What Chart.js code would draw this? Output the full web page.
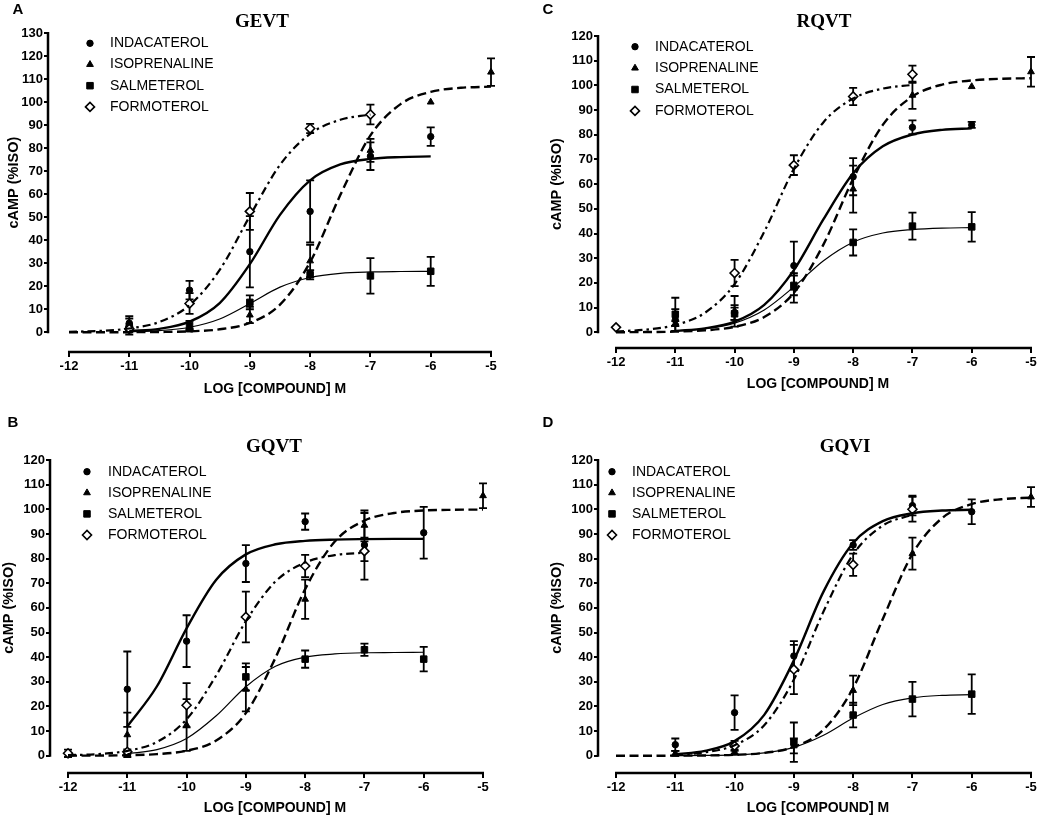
<!DOCTYPE html>
<html>
<head>
<meta charset="utf-8">
<script src="https://cdn.jsdelivr.net/npm/chart.js@4.4.1/dist/chart.umd.min.js"></script>
<style>
  html, body { margin: 0; padding: 0; background: #fff; }
  #wrap { position: relative; width: 1040px; height: 817px; overflow: hidden; }
  .panel { position: absolute; }
</style>
</head>
<body>
<div id="wrap">
  <div class="panel" style="left:0;top:0;width:520px;height:410px"><canvas id="cA"></canvas></div>
  <div class="panel" style="left:520px;top:0;width:520px;height:410px"><canvas id="cC"></canvas></div>
  <div class="panel" style="left:0;top:410px;width:520px;height:407px"><canvas id="cB"></canvas></div>
  <div class="panel" style="left:520px;top:410px;width:520px;height:407px"><canvas id="cD"></canvas></div>
</div>
<script>
// Values. x = log [compound] M, y = cAMP (%ISO)
const doses = [-12, -11, -10, -9, -8, -7, -6, -5];
const curveX = [-12, -11.5, -11, -10.5, -10, -9.5, -9, -8.5, -8, -7.5, -7, -6.5, -6, -5.5, -5];
const compounds = ['INDACATEROL', 'ISOPRENALINE', 'SALMETEROL', 'FORMOTEROL'];
const xTicks = [-12, -11, -10, -9, -8, -7, -6, -5];
const yTicks130 = [0, 10, 20, 30, 40, 50, 60, 70, 80, 90, 100, 110, 120, 130];
const yTicks120 = [0, 10, 20, 30, 40, 50, 60, 70, 80, 90, 100, 110, 120];

// A - GEVT
const indacA = [null, 4, 18.3, 35, 52.5, 76.5, 85, null];
const indacErrA = [null, 3, 4, 15.5, 13.5, 6, 4, null];
const isoA = [null, 1, 1, 7.5, 31, 79, 100, 113];
const isoErrA = [null, 1, 0.5, 3.5, 7, 5, 0, 6];
const salmA = [null, 2.5, 3, 13, 25, 24.5, 26.5, null];
const salmErrA = [null, 3.5, 2, 3, 2, 7.7, 6.3, null];
const formA = [null, 1.5, 12.5, 52.5, 88.5, 94.6, null, null];
const formErrA = [null, 1, 4.5, 8, 2, 4.3, null, null];
const indacFitA = [null, null, 0.5, 1.5, 4.6, 12.7, 29.6, 51, 66, 72.9, 75.3, 76.1, 76.4, null, null];
const isoFitA = [0, 0.01, 0.04, 0.13, 0.42, 1.3, 4.1, 12, 30.5, 59.6, 85.5, 99.1, 104.4, 106.2, 106.7];
const salmFitA = [null, null, 0.23, 0.73, 2.2, 5.8, 12.5, 19.6, 23.8, 25.6, 26.2, 26.4, 26.5, null, null];
const formFitA = [0.21, 0.6, 1.66, 4.5, 11.8, 27.1, 50.5, 72.7, 86.2, 92.3, 94.6, null, null, null, null];

// C - RQVT
const indacC = [null, 5, 8, 27, 63, 83, 84, null];
const indacErrC = [null, 4.4, 3, 9.7, 7.5, 2.8, 1.2, null];
const isoC = [null, 3.5, 8.5, 18, 58, 96, 99.5, 105.5];
const isoErrC = [null, 1, 6.2, 6, 9.5, 5.5, 0, 6];
const salmC = [null, 7.3, 7.5, 19, 36.4, 43, 42.7, null];
const salmErrC = [null, 6.7, 2.5, 4, 5.3, 5.5, 6, null];
const formC = [2, null, 24, 67.7, 95.5, 104.5, null, null];
const formErrC = [0, null, 5.3, 4, 3.5, 3.5, null, null];
const indacFitC = [null, null, 0.57, 1.59, 4.3, 11.1, 25.2, 45.8, 64.4, 75.3, 80.1, 82.0, 82.6, null, null];
const isoFitC = [0.03, 0.09, 0.27, 0.78, 2.22, 6.2, 16.0, 35.6, 62.2, 84.0, 95.5, 100.3, 102.0, 102.7, 102.9];
const salmFitC = [null, null, 0.51, 1.4, 3.73, 9.06, 18.4, 29.0, 36.5, 40.2, 41.6, 42.2, 42.4, null, null];
const formFitC = [0.38, 1.07, 2.95, 7.9, 19.5, 40.7, 66.2, 85.1, 94.7, 98.7, 100.2, null, null, null, null];

// B - GQVT
const indacB = [null, 27, 46.5, 78, 95, 85.5, 90.5, null];
const indacErrB = [null, 15.3, 10.5, 7.5, 3.3, 14, 10.5, null];
const isoB = [null, 8.5, 12.5, 27, 63.5, 93.5, null, 105.5];
const isoErrB = [null, 9, 10.5, 9, 8, 5, null, 5];
const salmB = [null, null, null, 32, 39.2, 43, 39.2, null];
const salmErrB = [null, null, null, 5.5, 3.5, 2.5, 5, null];
const formB = [1, 1.6, 20.5, 56.3, 77, 83, null, null];
const formErrB = [1.5, 1, 9, 10.3, 4.5, 4, null, null];
const indacFitB = [null, null, 11.9, 28.2, 51.7, 71.4, 81.7, 85.8, 87.2, 87.7, 87.9, 88, 88, null, null];
const isoFitB = [0.02, 0.07, 0.21, 0.66, 2.04, 6.2, 17.3, 39.8, 67.6, 86.9, 95.4, 98.5, 99.5, 99.8, 99.9];
const salmFitB = [null, null, 0.82, 2.49, 6.99, 16.2, 28.0, 36.3, 40.0, 41.3, 41.8, 41.9, 42, null, null];
const formFitB = [0.23, 0.67, 2.0, 5.6, 14.8, 32.6, 54.6, 70.7, 78.4, 81.4, 82.4, null, null, null, null];

// D - GQVI
const indacD = [null, 4.5, 17.5, 40.5, 85.5, 101.5, 99, null];
const indacErrD = [null, 2.5, 7, 6, 2, 4, 5, null];
const isoD = [null, 1, 1.5, 4, 26.5, 82, null, 105];
const isoErrD = [null, 1, 1, 3, 6, 6.5, null, 4];
const salmD = [null, null, null, 5.5, 16.5, 23, 25, null];
const salmErrD = [null, null, null, 8, 5, 7, 8, null];
const formD = [null, null, 4, 35, 77.5, 100, null, null];
const formErrD = [null, null, 2, 10, 4.5, 5, null, null];
const indacFitD = [null, null, 0.63, 1.96, 5.93, 16.6, 38.7, 66.6, 86.3, 95.2, 98.4, 99.5, 99.8, null, null];
const isoFitD = [0, 0.01, 0.04, 0.12, 0.37, 1.17, 3.6, 10.6, 27.5, 55.5, 81.9, 96.4, 102.1, 104.1, 104.7];
const salmFitD = [null, null, 0.04, 0.12, 0.39, 1.19, 3.42, 8.3, 15.3, 20.8, 23.5, 24.5, 24.8, null, null];
const formFitD = [null, null, 0.44, 1.39, 4.3, 12.4, 30.9, 58.5, 81.7, 93.4, 97.8, null, null, null, null];

// Styles per compound (same order as compounds)
const lineStyles = [
    { width: 2.4, dash: [] },
    { width: 2.4, dash: [9, 4.5] },
    { width: 1.2, dash: [] },
    { width: 2.2, dash: [8, 4, 2.5, 4] }
];
const markers = [
    { style: 'circle', r: 3.2, fill: '#000', bw: 1 },
    { style: 'triangle', r: 3.9, fill: '#000', bw: 1 },
    { style: 'rect', r: 4.6, fill: '#000', bw: 1 },
    { style: 'rectRot', r: 4.5, fill: '#fff', bw: 1.6 }
];

const SANS = '"Liberation Sans", Arial, Helvetica, sans-serif';
const SERIF = '"Liberation Serif", "Times New Roman", serif';

// Panel geometry (canvas coordinates)
const panels = [
    {
        canvas: 'cA', letter: 'A', title: 'GEVT', yTicks: yTicks130,
        xMin: -12.348, yMin: -8.56, yWidth: 48, padRight: 29, padTop: 33, xHeight: 58,
        letterPos: [18, 10], titlePos: [262, 22], legend: [90, 110, 43.3, 21.2],
        yTitleX: 14, xTitlePos: [275, 389],
        pts: [indacA, isoA, salmA, formA], errs: [indacErrA, isoErrA, salmErrA, formErrA],
        fits: [indacFitA, isoFitA, salmFitA, formFitA]
    },
    {
        canvas: 'cC', letter: 'C', title: 'RQVT', yTicks: yTicks120,
        xMin: -12.304, yMin: -6.36, yWidth: 78, padRight: 9, padTop: 36, xHeight: 62,
        letterPos: [28, 10], titlePos: [304, 22], legend: [115, 135, 46.7, 21.4],
        yTitleX: 37, xTitlePos: [298, 384],
        pts: [indacC, isoC, salmC, formC], errs: [indacErrC, isoErrC, salmErrC, formErrC],
        fits: [indacFitC, isoFitC, salmFitC, formFitC]
    },
    {
        canvas: 'cB', letter: 'B', title: 'GQVT', yTicks: yTicks120,
        xMin: -12.304, yMin: -7.0, yWidth: 50, padRight: 37, padTop: 50, xHeight: 44,
        letterPos: [13, 13], titlePos: [274, 37], legend: [87, 108, 61.7, 21.1],
        yTitleX: 9, xTitlePos: [275, 398],
        pts: [indacB, isoB, salmB, formB], errs: [indacErrB, isoErrB, salmErrB, formErrB],
        fits: [indacFitB, isoFitB, salmFitB, formFitB]
    },
    {
        canvas: 'cD', letter: 'D', title: 'GQVI', yTicks: yTicks120,
        xMin: -12.304, yMin: -7.0, yWidth: 78, padRight: 9, padTop: 50, xHeight: 44,
        letterPos: [28, 13], titlePos: [325, 37], legend: [92, 112, 61.7, 21.1],
        yTitleX: 37, xTitlePos: [298, 398],
        pts: [indacD, isoD, salmD, formD], errs: [indacErrD, isoErrD, salmErrD, formErrD],
        fits: [indacFitD, isoFitD, salmFitD, formFitD]
    }
];

function drawMarker(ctx, m, x, y) {
    ctx.save();
    ctx.fillStyle = m.fill;
    ctx.strokeStyle = '#000';
    ctx.lineWidth = m.bw;
    Chart.helpers.drawPoint(ctx, { pointStyle: m.style, radius: m.r, rotation: 0, borderWidth: m.bw }, x, y);
    ctx.restore();
}

function makeDecor(p) {
    return {
        id: 'decor',
        beforeDatasetsDraw(chart) {
            // error bars under the markers
            const ctx = chart.ctx, xs = chart.scales.x, ys = chart.scales.y;
            ctx.save();
            ctx.strokeStyle = '#000';
            ctx.lineWidth = 1.8;
            chart.data.datasets.forEach(ds => {
                if (!ds.errors) return;
                ds.data.forEach((pt, i) => {
                    const e = ds.errors[i];
                    if (!e) return;
                    const px = xs.getPixelForValue(pt.x);
                    const top = ys.getPixelForValue(pt.y + e);
                    const bot = ys.getPixelForValue(pt.y - e);
                    ctx.beginPath();
                    ctx.moveTo(px, top); ctx.lineTo(px, bot);
                    ctx.moveTo(px - 4, top); ctx.lineTo(px + 4, top);
                    ctx.moveTo(px - 4, bot); ctx.lineTo(px + 4, bot);
                    ctx.stroke();
                });
            });
            ctx.restore();
        },
        afterDraw(chart) {
            const ctx = chart.ctx, xs = chart.scales.x, ys = chart.scales.y;
            const area = chart.chartArea;
            const yMax = p.yTicks[p.yTicks.length - 1];
            ctx.save();
            // axis lines (offset x axis, like the original)
            ctx.strokeStyle = '#000';
            ctx.lineWidth = 2.5;
            ctx.beginPath();
            ctx.moveTo(area.left, ys.getPixelForValue(yMax) - 1);
            ctx.lineTo(area.left, ys.getPixelForValue(0) + 1);
            ctx.moveTo(xs.getPixelForValue(-12) - 1, area.bottom);
            ctx.lineTo(xs.getPixelForValue(-5) + 1, area.bottom);
            ctx.stroke();

            ctx.fillStyle = '#000';
            ctx.textAlign = 'center';
            ctx.textBaseline = 'middle';
            ctx.font = 'bold 15px ' + SANS;
            ctx.fillText(p.letter, p.letterPos[0], p.letterPos[1]);
            ctx.font = 'bold 19px ' + SERIF;
            ctx.fillText(p.title, p.titlePos[0], p.titlePos[1]);

            ctx.font = 'bold 14px ' + SANS;
            ctx.fillText('LOG [COMPOUND] M', p.xTitlePos[0], p.xTitlePos[1]);
            const yc = (ys.getPixelForValue(0) + ys.getPixelForValue(yMax)) / 2;
            ctx.save();
            ctx.translate(p.yTitleX, yc);
            ctx.rotate(-Math.PI / 2);
            ctx.font = 'bold 14.5px ' + SANS;
            ctx.fillText('cAMP (%ISO)', 0, 0);
            ctx.restore();

            // legend inside the plot
            const [mx, tx, ly, dy] = p.legend;
            ctx.font = '14px ' + SANS;
            ctx.textAlign = 'left';
            compounds.forEach((name, i) => {
                const y = ly + i * dy;
                drawMarker(ctx, markers[i], mx, y);
                ctx.fillStyle = '#000';
                ctx.fillText(name, tx, y);
            });
            ctx.restore();
        }
    };
}

function buildChart(p) {
    const datasets = [];
    p.fits.forEach((fit, i) => {
        const data = [];
        curveX.forEach((x, k) => { if (fit[k] !== null) data.push({ x: x, y: fit[k] }); });
        datasets.push({
            label: compounds[i] + ' fit',
            data: data,
            showLine: true,
            borderColor: '#000',
            borderWidth: lineStyles[i].width,
            borderDash: lineStyles[i].dash,
            cubicInterpolationMode: 'monotone',
            pointRadius: 0,
            fill: false
        });
    });
    // formoterol first so the filled markers sit on top of it
    [3, 2, 1, 0].forEach(i => {
        const data = [], errors = [];
        doses.forEach((x, k) => {
            if (p.pts[i][k] !== null) {
                data.push({ x: x, y: p.pts[i][k] });
                errors.push(p.errs[i][k]);
            }
        });
        datasets.push({
            label: compounds[i],
            data: data,
            errors: errors,
            showLine: false,
            pointStyle: markers[i].style,
            pointRadius: markers[i].r,
            pointBackgroundColor: markers[i].fill,
            pointBorderColor: '#000',
            pointBorderWidth: markers[i].bw,
            clip: false
        });
    });

    return new Chart(document.getElementById(p.canvas), {
        type: 'scatter',
        data: { datasets: datasets },
        options: {
            responsive: true,
            maintainAspectRatio: false,
            animation: false,
            events: [],
            layout: { padding: { left: 0, right: p.padRight, top: p.padTop, bottom: 0 } },
            plugins: { legend: { display: false }, tooltip: { enabled: false } },
            scales: {
                x: {
                    type: 'linear',
                    min: p.xMin,
                    max: -5,
                    afterBuildTicks: s => { s.ticks = xTicks.map(v => ({ value: v })); },
                    afterFit: s => { s.height = p.xHeight; },
                    border: { display: false },
                    grid: { drawOnChartArea: false, drawTicks: true, tickLength: 5, color: '#000', lineWidth: 2 },
                    ticks: {
                        color: '#000', padding: 2, autoSkip: false, maxRotation: 0,
                        font: { family: SANS, size: 13, weight: 'bold' },
                        callback: v => String(v)
                    }
                },
                y: {
                    type: 'linear',
                    min: p.yMin,
                    max: p.yTicks[p.yTicks.length - 1],
                    afterBuildTicks: s => { s.ticks = p.yTicks.map(v => ({ value: v })); },
                    afterFit: s => { s.width = p.yWidth; },
                    border: { display: false },
                    grid: { drawOnChartArea: false, drawTicks: true, tickLength: 4, color: '#000', lineWidth: 2 },
                    ticks: {
                        color: '#000', padding: 1, autoSkip: false,
                        font: { family: SANS, size: 13, weight: 'bold' },
                        callback: v => String(v)
                    }
                }
            }
        },
        plugins: [makeDecor(p)]
    });
}

panels.forEach(buildChart);
</script>
</body>
</html>
